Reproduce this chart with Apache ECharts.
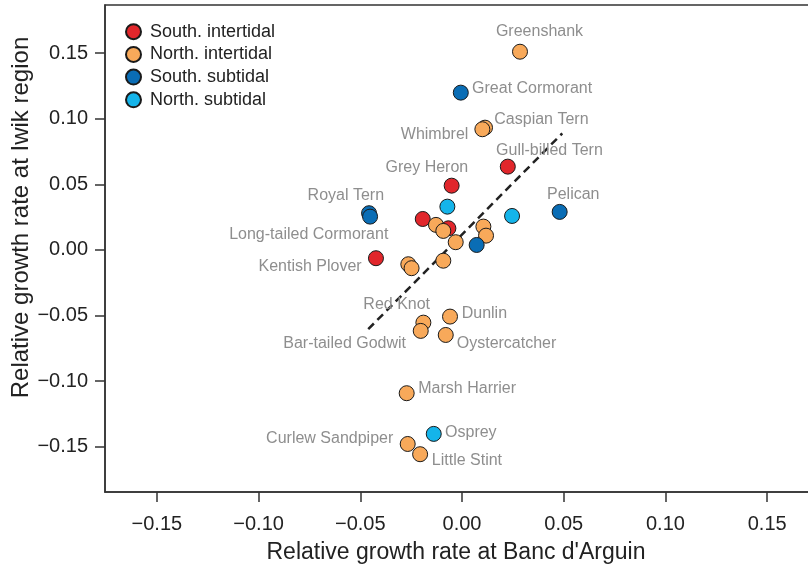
<!DOCTYPE html>
<html>
<head>
<meta charset="utf-8">
<script src="https://cdn.jsdelivr.net/npm/echarts@6/dist/echarts.min.js"></script>
<style>
html,body{margin:0;padding:0;background:#fff;}
#chart{width:808px;height:570px;}
</style>
</head>
<body>
<div id="chart"></div>
<script>
// ---- data: [x (Banc d'Arguin), y (Iwik), species label] ----
const southIntertidal = [
  [0.0225, 0.0635, 'Gull-billed Tern'],
  [-0.0051, 0.0490, 'Grey Heron'],
  [-0.0193, 0.0236, 'Long-tailed Cormorant'],
  [-0.0067, 0.0165, ''],
  [-0.0423, -0.0063, 'Kentish Plover']
];
const northIntertidal = [
  [0.0285, 0.1511, 'Greenshank'],
  [0.0113, 0.0932, 'Caspian Tern'],
  [0.0100, 0.0920, 'Whimbrel'],
  [-0.0128, 0.0191, ''],
  [-0.0092, 0.0145, ''],
  [0.0105, 0.0178, ''],
  [0.0118, 0.0109, ''],
  [-0.0031, 0.0059, ''],
  [-0.0264, -0.0109, ''],
  [-0.0248, -0.0139, ''],
  [-0.0092, -0.0082, ''],
  [-0.0190, -0.0554, 'Red Knot'],
  [-0.0203, -0.0617, 'Bar-tailed Godwit'],
  [-0.0059, -0.0508, 'Dunlin'],
  [-0.0080, -0.0648, 'Oystercatcher'],
  [-0.0272, -0.1092, 'Marsh Harrier'],
  [-0.0267, -0.1479, 'Curlew Sandpiper'],
  [-0.0206, -0.1557, 'Little Stint']
];
const southSubtidal = [
  [-0.0006, 0.1199, 'Great Cormorant'],
  [0.0480, 0.0290, 'Pelican'],
  [-0.0457, 0.0280, 'Royal Tern'],
  [-0.0452, 0.0254, ''],
  [0.0072, 0.0038, '']
];
const northSubtidal = [
  [-0.0072, 0.0330, ''],
  [0.0246, 0.0259, ''],
  [-0.0139, -0.1402, 'Osprey']
];
const regressionLine = [[-0.0461, -0.0604], [0.0493, 0.0889]];
const seriesNames = ['South. intertidal', 'North. intertidal', 'South. subtidal', 'North. subtidal'];
const xTicks = [-0.15, -0.10, -0.05, 0.00, 0.05, 0.10, 0.15];
const yTicks = [-0.15, -0.10, -0.05, 0.00, 0.05, 0.10, 0.15];
const xTitle = "Relative growth rate at Banc d'Arguin";
const yTitle = 'Relative growth rate at Iwik region';

// ---- label placement (style only): [align, dx, dy] from point centre ----
const labelPlace = {
  'Greenshank': ['center', 19.5, -19.7],
  'Great Cormorant': ['left', 11.3, -4.4],
  'Caspian Tern': ['left', 9.3, -8.4],
  'Whimbrel': ['right', -14, 5],
  'Gull-billed Tern': ['left', -11.7, -16],
  'Grey Heron': ['right', 16.6, -18],
  'Pelican': ['center', 13.6, -17],
  'Royal Tern': ['right', 15, -17.6],
  'Long-tailed Cormorant': ['right', -34.4, 15.3],
  'Kentish Plover': ['right', -14.3, 8.4],
  'Red Knot': ['right', 6.7, -17.7],
  'Bar-tailed Godwit': ['right', -14.7, 12.3],
  'Dunlin': ['left', 11.7, -3.4],
  'Oystercatcher': ['left', 11, 9],
  'Marsh Harrier': ['left', 11.6, -4.3],
  'Osprey': ['left', 11.3, -1.7],
  'Curlew Sandpiper': ['right', -14.4, -5.7],
  'Little Stint': ['left', 11.7, 6.4]
};
const colors = ['#e1262b', '#f8a95a', '#0a6db5', '#14b4ea'];
const FONT = '"Liberation Sans", Arial, Helvetica, sans-serif';

function fmt(v) {
  const s = Math.abs(v) < 1e-9 ? '0.00' : v.toFixed(2);
  return s.replace('-', '\u2212');
}

function buildData(arr) {
  return arr.map(function (d) {
    const item = { value: [d[0], d[1]], name: d[2] };
    const p = labelPlace[d[2]];
    if (d[2] && p) {
      item.label = {
        show: true,
        position: 'inside',
        align: p[0],
        verticalAlign: 'middle',
        offset: [p[1], p[2]],
        formatter: d[2],
        color: '#8e8e8e',
        fontSize: 16,
        fontFamily: FONT
      };
    }
    return item;
  });
}

const groups = [southIntertidal, northIntertidal, southSubtidal, northSubtidal];
const series = groups.map(function (g, i) {
  return {
    name: seriesNames[i],
    type: 'scatter',
    data: buildData(g),
    symbol: 'circle',
    symbolSize: 15,
    z: 3,
    itemStyle: { color: colors[i], borderColor: '#1a1a1a', borderWidth: 1, opacity: 1 },
    label: { show: false },
    emphasis: { disabled: true }
  };
});
series.unshift({
  type: 'line',
  data: regressionLine,
  symbol: 'none',
  z: 2,
  silent: true,
  lineStyle: { color: '#222', width: 2.5, type: [8, 5] },
  emphasis: { disabled: true }
});

const axisCommon = {
  type: 'value',
  axisLine: { show: true, onZero: false, lineStyle: { color: '#333', width: 1.5 } },
  axisTick: { show: true, inside: false, length: 10, lineStyle: { color: '#333', width: 1.5 } },
  splitLine: { show: false },
  nameLocation: 'middle',
  nameMoveOverlap: false
};

const chart = echarts.init(document.getElementById('chart'), null, { renderer: 'canvas' });
chart.setOption({
  animation: false,
  backgroundColor: '#ffffff',
  textStyle: { fontFamily: FONT },
  grid: { left: 105, right: -9, top: 5, bottom: 78, outerBoundsMode: 'none', containLabel: false, show: true, borderColor: '#333', borderWidth: 1.5, backgroundColor: 'transparent' },
  legend: {
    data: seriesNames,
    orient: 'vertical',
    left: 120,
    top: 17.7,
    padding: 5,
    icon: 'circle',
    itemWidth: 15,
    itemHeight: 15,
    itemGap: 4.7,
    selectedMode: false,
    formatter: function (name) { return '{t|' + name + '}'; },
    textStyle: {
      fontSize: 18, color: '#222', lineHeight: 18, fontFamily: FONT,
      rich: { t: { fontSize: 18, color: '#222', lineHeight: 18, fontFamily: FONT, padding: [0, 0, 0, 4] } }
    }
  },
  xAxis: Object.assign({}, axisCommon, {
    min: -0.1755, max: 0.1745,
    axisTick: Object.assign({}, axisCommon.axisTick, { customValues: xTicks }),
    axisLabel: { customValues: xTicks, formatter: fmt, fontSize: 20, color: '#222', margin: 22, fontFamily: FONT },
    name: xTitle,
    nameGap: 49,
    nameTextStyle: { fontSize: 23, color: '#222', fontFamily: FONT, padding: [0, 10, 0, 0] }
  }),
  yAxis: Object.assign({}, axisCommon, {
    min: -0.1845, max: 0.1867,
    axisTick: Object.assign({}, axisCommon.axisTick, { customValues: yTicks }),
    axisLabel: { customValues: yTicks, formatter: fmt, fontSize: 20, color: '#222', margin: 17, fontFamily: FONT },
    name: yTitle,
    nameGap: 72,
    nameTextStyle: { fontSize: 24, color: '#222', fontFamily: FONT, padding: [0, 0, 0, 62] }
  }),
  series: series
});
</script>
</body>
</html>
